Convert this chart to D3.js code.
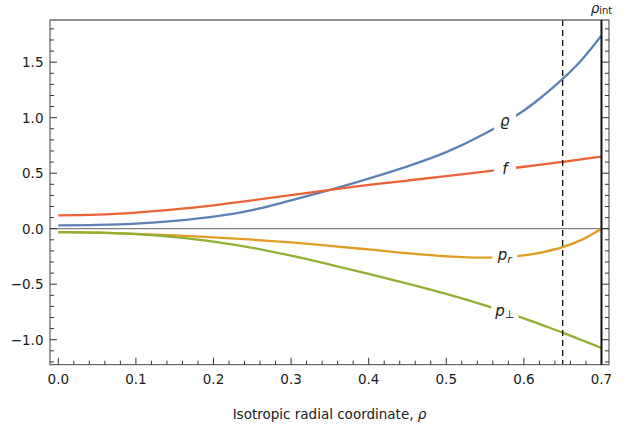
<!DOCTYPE html>
<html>
<head>
<meta charset="utf-8">
<script src="https://cdn.jsdelivr.net/npm/d3@7/dist/d3.min.js"></script>
<style>
  html, body { margin: 0; padding: 0; background: #fff; }
  svg { display: block; font-family: "DejaVu Sans", sans-serif; }
</style>
</head>
<body>
<svg id="chart" width="632" height="429"></svg>
<script>
// ---- data ----
const xs      = [0, 0.05, 0.1, 0.15, 0.2, 0.25, 0.3, 0.35, 0.4, 0.45, 0.5, 0.55, 0.6, 0.625, 0.65, 0.675, 0.7];
const rhoVals = [0.030, 0.034, 0.046, 0.070, 0.108, 0.168, 0.256, 0.350, 0.452, 0.562, 0.690, 0.858, 1.065, 1.198, 1.350, 1.525, 1.740];
const fVals   = [0.120, 0.126, 0.145, 0.174, 0.211, 0.255, 0.303, 0.350, 0.394, 0.434, 0.474, 0.515, 0.558, 0.580, 0.603, 0.626, 0.649];
const prVals  = [-0.030, -0.035, -0.046, -0.060, -0.078, -0.099, -0.124, -0.154, -0.187, -0.221, -0.248, -0.260, -0.240, -0.210, -0.166, -0.098, 0.000];
const ppVals  = [-0.030, -0.035, -0.049, -0.076, -0.116, -0.172, -0.243, -0.323, -0.407, -0.494, -0.587, -0.691, -0.807, -0.871, -0.936, -1.005, -1.075];
const xMajorTicks = [0, 0.1, 0.2, 0.3, 0.4, 0.5, 0.6, 0.7];
const xTickLabels = ["0.0", "0.1", "0.2", "0.3", "0.4", "0.5", "0.6", "0.7"];
const yMajorTicks = [-1.0, -0.5, 0.0, 0.5, 1.0, 1.5];
const yTickLabels = ["\u22121.0", "\u22120.5", "0.0", "0.5", "1.0", "1.5"];
const rhoInt = 0.7;
const rhoDashed = 0.65;
const labelX = 0.5755;
const xTitle = "Isotropic radial coordinate, ";

const series = [
  { name: "rho", vals: rhoVals, color: "#5E81B5" },
  { name: "f",   vals: fVals,   color: "#EB6235" },
  { name: "pr",  vals: prVals,  color: "#E19C24" },
  { name: "pp",  vals: ppVals,  color: "#8FB032" }
];

// ---- scales ----
const x = d3.scaleLinear().domain([-0.0107, 0.7097]).range([50, 609]);
const y = d3.scaleLinear().domain([-1.225, 1.88]).range([364.7, 20]);

const svg = d3.select("#chart");
const frameColor = "#6b6b6b";
const [x0, x1] = x.range();
const [yb, yt] = y.range();

// zero axis line
svg.append("line")
  .attr("x1", x0).attr("x2", x1)
  .attr("y1", y(0)).attr("y2", y(0))
  .attr("stroke", "#808080").attr("stroke-width", 1.3);

// curves
const line = d3.line()
  .x((d, i) => x(xs[i]))
  .y(d => y(d))
  .curve(d3.curveCatmullRom.alpha(0.5));

svg.append("g").selectAll("path")
  .data(series)
  .join("path")
  .attr("d", d => line(d.vals))
  .attr("fill", "none")
  .attr("stroke", d => d.color)
  .attr("stroke-width", 2.3)
  .attr("stroke-linecap", "butt");

// label gaps
const gaps = [
  { vals: rhoVals, w: 22, h: 24 },
  { vals: fVals,   w: 22, h: 16 },
  { vals: prVals,  w: 25, h: 16 },
  { vals: ppVals,  w: 27, h: 22 }
];
const lx = x(labelX);
function valAt(vals, xv) {
  const i = d3.bisectRight(xs, xv) - 1;
  const t = (xv - xs[i]) / (xs[i + 1] - xs[i]);
  return vals[i] + t * (vals[i + 1] - vals[i]);
}
svg.append("g").selectAll("rect")
  .data(gaps)
  .join("rect")
  .attr("x", d => lx - d.w / 2)
  .attr("y", d => y(valAt(d.vals, labelX)) - d.h / 2)
  .attr("width", d => d.w)
  .attr("height", d => d.h)
  .attr("fill", "#fff");

// dashed line at 0.65
svg.append("line")
  .attr("x1", x(rhoDashed)).attr("x2", x(rhoDashed))
  .attr("y1", yt).attr("y2", yb)
  .attr("stroke", "#111").attr("stroke-width", 1.3)
  .attr("stroke-dasharray", "6,4");

// frame
const frame = svg.append("g").attr("stroke", frameColor).attr("stroke-width", 1.3);
frame.append("line").attr("x1", x0).attr("x2", x0).attr("y1", yt - 0.6).attr("y2", yb + 0.6);
frame.append("line").attr("x1", x1).attr("x2", x1).attr("y1", yt - 0.6).attr("y2", yb + 0.6);
frame.append("line").attr("x1", x0).attr("x2", x1).attr("y1", yt).attr("y2", yt);
frame.append("line").attr("x1", x0).attr("x2", x1).attr("y1", yb).attr("y2", yb);

// ticks
const tickColor = "#333";
const xMinor = d3.range(0, 0.7001, 0.02).filter(v => !xMajorTicks.some(m => Math.abs(m - v) < 1e-6));
const yMinor = d3.range(-1.2, 1.8001, 0.1).filter(v => !yMajorTicks.some(m => Math.abs(m - v) < 1e-6));

const tg = svg.append("g").attr("stroke", tickColor).attr("stroke-width", 1);
tg.selectAll(".xM").data(xMajorTicks).join("line")
  .attr("x1", d => x(d)).attr("x2", d => x(d)).attr("y1", yb).attr("y2", yb - 7);
tg.selectAll(".xm").data(xMinor).join("line")
  .attr("x1", d => x(d)).attr("x2", d => x(d)).attr("y1", yb).attr("y2", yb - 4);
tg.selectAll(".yM").data(yMajorTicks).join("line")
  .attr("x1", x0).attr("x2", x0 + 7).attr("y1", d => y(d)).attr("y2", d => y(d));
tg.selectAll(".ym").data(yMinor).join("line")
  .attr("x1", x0).attr("x2", x0 + 4).attr("y1", d => y(d)).attr("y2", d => y(d));
tg.selectAll(".yMr").data(yMajorTicks).join("line")
  .attr("x1", x1).attr("x2", x1 - 7).attr("y1", d => y(d)).attr("y2", d => y(d));
tg.selectAll(".ymr").data(yMinor).join("line")
  .attr("x1", x1).attr("x2", x1 - 4).attr("y1", d => y(d)).attr("y2", d => y(d));

// solid line at rho_int
svg.append("line")
  .attr("x1", x(rhoInt)).attr("x2", x(rhoInt))
  .attr("y1", yt).attr("y2", yb)
  .attr("stroke", "#111").attr("stroke-width", 2);

// tick labels
const textColor = "#1a1a1a";
svg.append("g").selectAll("text")
  .data(xMajorTicks)
  .join("text")
  .attr("x", d => x(d))
  .attr("y", 384)
  .attr("text-anchor", "middle")
  .attr("font-size", 13.5)
  .attr("fill", textColor)
  .text((d, i) => xTickLabels[i]);

svg.append("g").selectAll("text")
  .data(yMajorTicks)
  .join("text")
  .attr("x", 43.5)
  .attr("y", d => y(d) + 5)
  .attr("text-anchor", "end")
  .attr("font-size", 13.5)
  .attr("fill", textColor)
  .text((d, i) => yTickLabels[i]);

// x axis title
const title = svg.append("text")
  .attr("x", (x0 + x1) / 2)
  .attr("y", 419)
  .attr("text-anchor", "middle")
  .attr("font-size", 13.5)
  .attr("fill", textColor);
title.append("tspan").text(xTitle);
title.append("tspan").attr("font-style", "italic").text("\u03C1");

// rho_int label
const ri = svg.append("text")
  .attr("x", x(rhoInt))
  .attr("y", 13)
  .attr("text-anchor", "middle")
  .attr("font-size", 13.5)
  .attr("fill", textColor);
ri.append("tspan").attr("font-style", "italic").text("\u03C1");
ri.append("tspan").attr("font-size", 10).attr("dy", 1).text("int");

// curve labels
const lab = svg.append("g").attr("fill", textColor).attr("font-size", 15).attr("font-style", "italic");
lab.append("text").attr("x", lx).attr("y", y(valAt(rhoVals, labelX)) + 4).attr("text-anchor", "middle").text("\u03F1");
lab.append("text").attr("x", lx).attr("y", y(valAt(fVals, labelX)) + 5).attr("text-anchor", "middle").text("f");
const tpr = lab.append("text").attr("x", lx).attr("y", y(valAt(prVals, labelX)) + 4).attr("text-anchor", "middle");
tpr.append("tspan").text("p");
tpr.append("tspan").attr("font-size", 11).attr("dy", 3).text("r");
const tpp = lab.append("text").attr("x", lx).attr("y", y(valAt(ppVals, labelX)) + 4).attr("text-anchor", "middle");
tpp.append("tspan").text("p");
tpp.append("tspan").attr("font-size", 11).attr("font-style", "normal").attr("dy", 2).text("\u22A5");
</script>
</body>
</html>
